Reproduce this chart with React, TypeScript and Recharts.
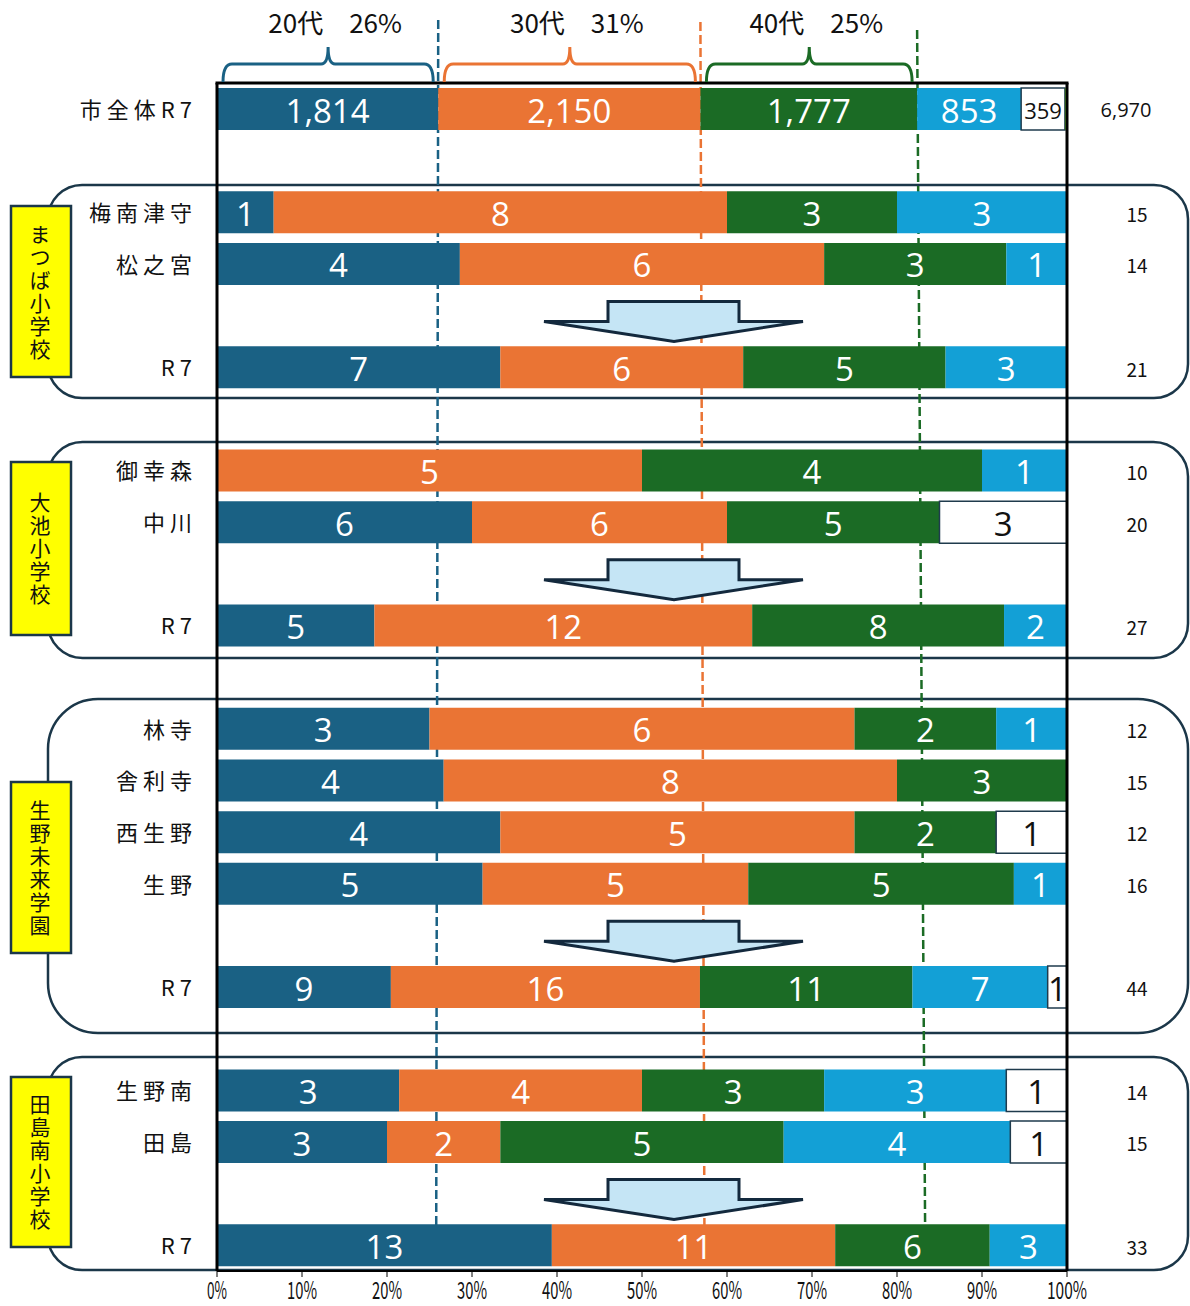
import React from 'react';
import { BarChart, Bar, XAxis, YAxis, LabelList } from 'recharts';

// ---------- data ----------
const rowKeys = [
  'city', 'gap1', 'umeminami', 'matsunomiya', 'arrow1', 'r7a',
  'gap2', 'miyukimori', 'nakagawa', 'arrow2', 'r7b',
  'gap3', 'hayashiji', 'shariji', 'nishiikuno', 'ikuno', 'arrow3', 'r7c',
  'gap4', 'ikunominami', 'tajima', 'arrow4', 'r7d',
];
const rowLabels = [
  '市全体R7', '', '梅南津守', '松之宮', '', 'R7',
  '', '御幸森', '中川', '', 'R7',
  '', '林寺', '舎利寺', '西生野', '生野', '', 'R7',
  '', '生野南', '田島', '', 'R7',
];
const age20 = [1814, null, 1, 4, null, 7, null, 0, 6, null, 5, null, 3, 4, 4, 5, null, 9, null, 3, 3, null, 13];
const age30 = [2150, null, 8, 6, null, 6, null, 5, 6, null, 12, null, 6, 8, 5, 5, null, 16, null, 4, 2, null, 11];
const age40 = [1777, null, 3, 3, null, 5, null, 4, 5, null, 8, null, 2, 3, 2, 5, null, 11, null, 3, 5, null, 6];
const age50 = [853, null, 3, 1, null, 3, null, 1, 0, null, 2, null, 1, 0, 0, 1, null, 7, null, 3, 4, null, 3];
const age60 = [359, null, 0, 0, null, 0, null, 0, 3, null, 0, null, 0, 0, 1, 0, null, 1, null, 1, 1, null, 0];
const ageOther = [17, null, 0, 0, null, 0, null, 0, 0, null, 0, null, 0, 0, 0, 0, null, 0, null, 0, 0, null, 0];

const ageNames = ['20代', '30代', '40代'];
const schoolNames = ['まつば小学校', '大池小学校', '生野未来学園', '田島南小学校'];
const xTicks = [0, 10, 20, 30, 40, 50, 60, 70, 80, 90, 100];

// ---------- style / layout ----------
const W = 1190;
const H = 1306;
const PLOT_LEFT = 217;
const PLOT_RIGHT = 1067;
const PLOT_TOP = 83;
const PLOT_BOTTOM = 1271;
const BAND = (PLOT_BOTTOM - PLOT_TOP) / rowKeys.length;

const seriesKeys = ['a20', 'a30', 'a40', 'a50', 'a60', 'aOther'];
const seriesValues = [age20, age30, age40, age50, age60, ageOther];
const seriesFill = ['#1a6184', '#ea7434', '#1b6b25', '#13a0d6', '#ffffff', '#5cb030'];
const seriesStroke = ['none', 'none', 'none', 'none', '#1f3b4d', 'none'];
const labelColor = ['#ffffff', '#ffffff', '#ffffff', '#ffffff', '#111111', '#111111'];

const CJK = "'Noto Sans CJK JP', 'Noto Sans CJK SC', sans-serif";
const NUM = "'Open Sans', 'Noto Sans', sans-serif";

const fmt = (v: number) => v.toLocaleString('en-US');

const data = rowKeys.map((key, i) => {
  const vals = seriesValues.map((s) => s[i]);
  const total = vals.reduce((a: number, v) => a + (v ?? 0), 0);
  const row: any = { key, label: rowLabels[i], total: total ? fmt(total) : '' };
  seriesKeys.forEach((k, j) => {
    row[k] = total ? ((vals[j] ?? 0) / total) * 100 : 0;
    row[k + '_raw'] = vals[j];
  });
  return row;
});

const labelByKey: Record<string, string> = {};
const totalByKey: Record<string, string> = {};
data.forEach((d) => {
  labelByKey[d.key] = d.label;
  totalByKey[d.key] = d.total;
});

// cumulative shares of the city-wide row (for braces, headers and dashed lines)
const cityVals = seriesValues.map((s) => s[0] as number);
const cityTotal = cityVals.reduce((a, b) => a + b, 0);
const cityCum: number[] = [0];
cityVals.forEach((v, i) => cityCum.push(cityCum[i] + (v / cityTotal) * 100));

const xPx = (pct: number) => PLOT_LEFT + (pct / 100) * (PLOT_RIGHT - PLOT_LEFT);
const rowCenter = (i: number) => PLOT_TOP + (i + 0.5) * BAND;

const groupBoxes = [
  [185, 398],
  [442, 658],
  [699, 1033],
  [1057, 1270],
];
const yellowBoxes = [
  [206, 377],
  [462, 635],
  [782, 953],
  [1077, 1247],
];
const dashTop = [20, 22, 30];
const dashDrift = [-2, 4, 8];
const DASH_BOTTOM = 1228;

// ---------- renderers ----------
const makeLabel = (color: string) => (props: any) => {
  const { value } = props;
  const x = Number(props.x);
  const y = Number(props.y);
  const width = Number(props.width);
  const height = Number(props.height);
  if (value === null || value === undefined || value === 0) return null;
  const text = fmt(Number(value));
  let size = 33;
  if (text.length * 0.57 * size > width) size = 22;
  return (
    <text
      x={x + width / 2}
      y={y + height / 2 + 1}
      fill={color}
      fontSize={size}
      fontFamily={NUM}
      textAnchor="middle"
      dominantBaseline="central"
    >
      {text}
    </text>
  );
};

const LeftTick = (props: any) => {
  const { y, payload } = props;
  const label = labelByKey[payload.value];
  if (!label) return null;
  return (
    <text
      x={PLOT_LEFT - 20}
      y={y - 1}
      textAnchor="end"
      dominantBaseline="central"
      fontSize={22}
      letterSpacing={5}
      fontFamily={CJK}
      fill="#111"
    >
      {label}
    </text>
  );
};

const RightTick = (props: any) => {
  const { y, payload } = props;
  const t = totalByKey[payload.value];
  if (!t) return null;
  const isCity = payload.value === rowKeys[0];
  return (
    <text
      x={isCity ? 1126 : 1137}
      y={y + 1}
      textAnchor="middle"
      dominantBaseline="central"
      fontSize={isCity ? 20 : 19}
      fontFamily={isCity ? NUM : CJK}
      fill="#111"
    >
      {t}
    </text>
  );
};

const BottomTick = (props: any) => {
  const { x, payload } = props;
  const t = `${payload.value}%`;
  return (
    <text
      x={x}
      y={PLOT_BOTTOM + 28}
      textAnchor="middle"
      fontSize={24}
      fontFamily={CJK}
      textLength={t.length * 10}
      lengthAdjust="spacingAndGlyphs"
      fill="#111"
    >
      {t}
    </text>
  );
};

const bracePath = (x1: number, x2: number) => {
  const yb = 82;
  const yh = 64;
  const yt = 47;
  const m = (x1 + x2) / 2;
  return `M${x1},${yb} Q${x1},${yh} ${x1 + 9},${yh} L${m - 7},${yh} Q${m},${yh} ${m},${yt} Q${m},${yh} ${m + 7},${yh} L${x2 - 9},${yh} Q${x2},${yh} ${x2},${yb}`;
};

const arrowPath = (rc: number) => {
  const cx = 674;
  const top = rc - 14;
  const sh = rc + 6;
  const tip = rc + 26;
  return `M${cx - 66},${top} L${cx + 65},${top} L${cx + 65},${sh} L${cx + 129},${sh} L${cx},${tip} L${cx - 130},${sh} L${cx - 66},${sh} Z`;
};

export default function App() {
  const arrowRows = rowKeys.map((k, i) => (k.startsWith('arrow') ? i : -1)).filter((i) => i >= 0);
  return (
    <div style={{ position: 'absolute', left: 0, top: 0, width: W, height: H, background: '#fff', overflow: 'hidden' }}>
      {/* background decorations */}
      <svg width={W} height={H} style={{ position: 'absolute', left: 0, top: 0 }}>
        {groupBoxes.map((b, i) => {
          const h = b[1] - b[0];
          const r = Math.min(50, h * 0.16);
          return (
            <rect key={i} x={48} y={b[0]} width={1188 - 48} height={h} rx={r} ry={r} fill="none" stroke="#1b3749" strokeWidth={2.5} />
          );
        })}
        {[1, 2, 3].map((c, i) => (
          <line
            key={c}
            x1={xPx(cityCum[c])}
            y1={dashTop[i]}
            x2={xPx(cityCum[c]) + dashDrift[i]}
            y2={DASH_BOTTOM}
            stroke={seriesFill[i]}
            strokeWidth={2.5}
            strokeDasharray="9 4"
          />
        ))}
      </svg>

      <div style={{ position: 'absolute', left: 0, top: 0 }}>
        <BarChart
          width={W}
          height={H}
          data={data}
          layout="vertical"
          margin={{ top: PLOT_TOP, right: 0, bottom: 0, left: 0 }}
          barSize={42}
        >
          <XAxis
            type="number"
            domain={[0, 100]}
            ticks={xTicks}
            interval={0}
            allowDataOverflow
            height={H - PLOT_BOTTOM}
            axisLine={{ stroke: '#000', strokeWidth: 2 }}
            tickLine={{ stroke: '#000' }}
            tickSize={6}
            tick={<BottomTick />}
          />
          <YAxis
            yAxisId="left"
            type="category"
            dataKey="key"
            width={PLOT_LEFT}
            interval={0}
            tickLine={false}
            axisLine={{ stroke: '#000', strokeWidth: 3 }}
            tick={<LeftTick />}
          />
          <YAxis
            yAxisId="right"
            orientation="right"
            type="category"
            dataKey="key"
            width={W - PLOT_RIGHT}
            interval={0}
            tickLine={false}
            axisLine={{ stroke: '#000', strokeWidth: 3 }}
            tick={<RightTick />}
          />
          {seriesKeys.map((k, j) => (
            <Bar
              key={k}
              dataKey={k}
              stackId="s"
              yAxisId="left"
              fill={seriesFill[j]}
              stroke={seriesStroke[j]}
              strokeWidth={1.5}
              isAnimationActive={false}
            >
              {k !== 'aOther' && <LabelList dataKey={k + '_raw'} content={makeLabel(labelColor[j])} />}
            </Bar>
          ))}
        </BarChart>
      </div>

      {/* overlay decorations */}
      <svg width={W} height={H} style={{ position: 'absolute', left: 0, top: 0, pointerEvents: 'none' }}>
        <line x1={PLOT_LEFT - 1.5} y1={PLOT_TOP} x2={PLOT_RIGHT + 1.5} y2={PLOT_TOP} stroke="#000" strokeWidth={3} />
        {[0, 1, 2].map((i) => {
          const x1 = xPx(cityCum[i]) + 6;
          const x2 = xPx(cityCum[i + 1]) - 5;
          const pct = Math.round(cityVals[i] / cityTotal * 100);
          return (
            <g key={i}>
              <path d={bracePath(x1, x2)} fill="none" stroke={seriesFill[i]} strokeWidth={3} />
              <text x={(x1 + x2) / 2 + 7} y={33} textAnchor="middle" fontSize={26} fontFamily={CJK} fill="#111">
                {`${ageNames[i]}　${pct}%`}
              </text>
            </g>
          );
        })}
        {arrowRows.map((r) => (
          <path key={r} d={arrowPath(rowCenter(r))} fill="#c5e5f5" stroke="#13293d" strokeWidth={3} strokeLinejoin="miter" />
        ))}
        {yellowBoxes.map((b, i) => {
          const cy = (b[0] + b[1]) / 2;
          return (
            <g key={i}>
              <rect x={11} y={b[0]} width={60} height={b[1] - b[0]} fill="#ffff00" stroke="#1b3749" strokeWidth={2.5} />
              <text
                x={40}
                y={cy + 1}
                textAnchor="middle"
                fontSize={21}
                letterSpacing={2}
                fontFamily={CJK}
                fill="#111"
                style={{ writingMode: 'vertical-rl' }}
              >
                {schoolNames[i]}
              </text>
            </g>
          );
        })}
      </svg>
    </div>
  );
}
